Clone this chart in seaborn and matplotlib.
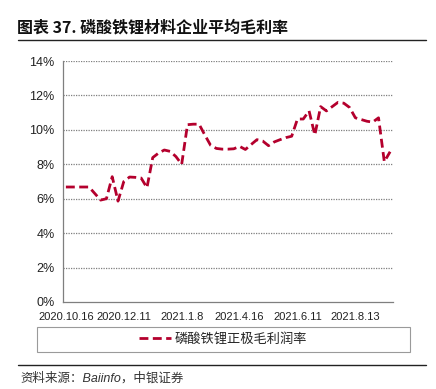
import matplotlib
matplotlib.use("Agg")
import matplotlib.pyplot as plt
import matplotlib.patches as mpatches
import numpy as np
import pandas as pd
import seaborn as sns

# ---- data ----
title = "图表 37. 磷酸铁锂材料企业平均毛利率"
series_name = "磷酸铁锂正极毛利润率"
source = "资料来源：Baiinfo，中银证券"

# gross margin, % (57 observations)
margin = [6.68, 6.68, 6.68, 6.68, 6.68, 6.30, 5.92, 6.00, 7.28, 5.86,
          7.00, 7.26, 7.24, 7.20, 6.64, 8.39, 8.65, 8.83, 8.75, 8.45,
          8.00, 10.30, 10.33, 10.33, 9.70, 9.10, 8.92, 8.88, 8.88, 8.90,
          9.04, 8.86, 9.15, 9.43, 9.35, 9.08, 9.30, 9.43, 9.55, 9.63,
          10.63, 10.63, 11.10, 9.70, 11.35, 11.10, 11.35, 11.60, 11.55, 11.30,
          10.70, 10.60, 10.50, 10.45, 10.70, 8.15, 8.73]
tick_pos = [0, 10, 20, 30, 40, 50]
tick_labels = ["2020.10.16", "2020.12.11", "2021.1.8", "2021.4.16", "2021.6.11", "2021.8.13"]
yticks = [0, 2, 4, 6, 8, 10, 12, 14]

df = pd.DataFrame({"idx": np.arange(len(margin)), "margin": margin})

sns.set_style("white")
plt.rcParams["font.family"] = ["Liberation Sans", "Noto Sans CJK SC", "DejaVu Sans"]

fig = plt.figure(figsize=(4.36, 3.89), dpi=100)
ax = fig.add_axes([63 / 436, 1 - 302 / 389, 330 / 436, 241 / 389])

line_color = "#B4002D"
sns.lineplot(data=df, x="idx", y="margin", ax=ax, color=line_color,
             linewidth=2.0, label=series_name, legend=False)
ax.lines[0].set_dashes((3.2, 1.6))

ax.set_xlim(-0.5, len(margin) - 0.5)
ax.set_ylim(0, 14)
ax.set_xlabel("")
ax.set_ylabel("")

# grid
for y in yticks[1:]:
    ax.axhline(y, color="#7f7f7f", linewidth=0.9, linestyle=(0, (1, 1)), zorder=0)

# ticks
ax.set_yticks(yticks)
ax.set_yticklabels([f"{v}%" for v in yticks], fontsize=9, color="#222222")
ax.set_xticks(tick_pos)
ax.set_xticklabels(tick_labels, fontsize=8, color="#222222")
ax.set_xticks(np.arange(-0.5, len(margin), 1.0), minor=True)
ax.tick_params(axis="x", which="major", length=0, pad=7)
ax.tick_params(axis="x", which="minor", length=4, width=0.8, color="#7f7f7f", direction="out")
ax.tick_params(axis="y", which="major", length=4, width=0.8, color="#7f7f7f", direction="out", pad=2)

for s in ["top", "right"]:
    ax.spines[s].set_visible(False)
for s in ["left", "bottom"]:
    ax.spines[s].set_color("#7f7f7f")
    ax.spines[s].set_linewidth(0.9)

# title and rules
fig.text(17 / 436, 1 - 27 / 389, title, fontsize=11.5, fontweight="bold",
         family=["Noto Sans CJK SC"], va="center", ha="left", color="#111111")
fig.add_artist(plt.Line2D([18 / 436, 426 / 436], [1 - 40 / 389, 1 - 40 / 389],
                          color="#222222", linewidth=1.0))
fig.add_artist(plt.Line2D([18 / 436, 426 / 436], [1 - 365 / 389, 1 - 365 / 389],
                          color="#222222", linewidth=1.0))
fig.text(20 / 436, 1 - 378 / 389, source, fontsize=9, style="italic",
         family=["Liberation Sans", "Noto Sans CJK SC"], va="center", ha="left", color="#333333")

# legend box
fig.patches.append(mpatches.Rectangle((37 / 436, 1 - 352 / 389), 373 / 436, 25 / 389,
                                      transform=fig.transFigure, fill=False,
                                      edgecolor="#9a9a9a", linewidth=0.8))
handles, labels = ax.get_legend_handles_labels()
leg = fig.legend(handles, labels, loc="center", bbox_to_anchor=(223 / 436, 1 - 339.5 / 389),
                 frameon=False, handlelength=2.4, handletextpad=0.3,
                 prop={"family": ["Noto Sans CJK SC"], "size": 9.5})

fig.savefig("out.png", dpi=100)
